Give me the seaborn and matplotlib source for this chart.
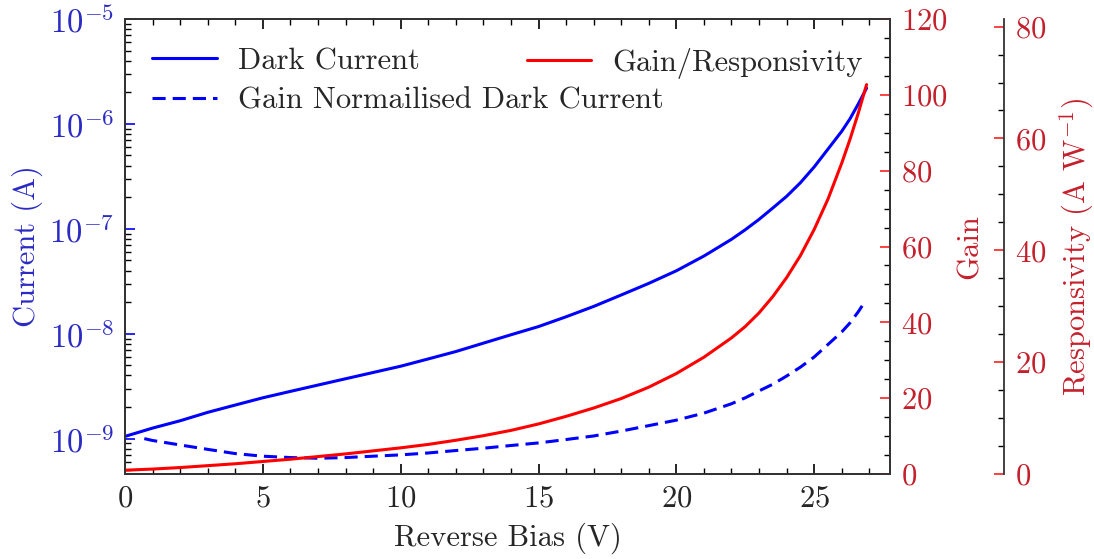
import numpy as np
import pandas as pd
import matplotlib
matplotlib.use("Agg")
import matplotlib.pyplot as plt
import seaborn as sns
from matplotlib.ticker import MultipleLocator, LogLocator, NullFormatter, FixedLocator

# ---- data ----
bias = [0, 1, 2, 3, 4, 5, 6, 7, 8, 9, 10, 11, 12, 13, 14, 15, 16, 17, 18, 19, 20, 21, 22,
        22.5, 23, 23.5, 24, 24.5, 25, 25.5, 26, 26.3, 26.6, 26.9]
dark_current = [1.05e-9, 1.26e-9, 1.48e-9, 1.78e-9, 2.09e-9, 2.45e-9, 2.82e-9, 3.24e-9,
                3.72e-9, 4.27e-9, 4.90e-9, 5.75e-9, 6.76e-9, 8.13e-9, 9.77e-9, 1.17e-8,
                1.45e-8, 1.82e-8, 2.34e-8, 3.02e-8, 3.98e-8, 5.50e-8, 7.94e-8, 9.8e-8,
                1.23e-7, 1.58e-7, 2.04e-7, 2.75e-7, 3.89e-7, 5.75e-7, 8.51e-7, 1.12e-6,
                1.55e-6, 2.19e-6]
gain = [1.0, 1.3, 1.7, 2.2, 2.7, 3.3, 3.9, 4.6, 5.3, 6.1, 6.9, 7.8, 8.9, 10.1, 11.5, 13.2,
        15.2, 17.4, 19.9, 22.9, 26.5, 30.8, 35.9, 38.9, 42.5, 46.8, 51.8, 57.6, 64.5, 72.5,
        82.0, 88.3, 95.2, 102.7]
bias_norm = [0.7, 1, 2, 3, 4, 5, 6, 7, 8, 9, 10, 11, 12, 13, 14, 15, 16, 17, 18, 19, 20,
             21, 22, 22.5, 23, 23.5, 24, 24.5, 25, 25.5, 26, 26.3, 26.6, 26.8]
norm_dark = [1.0e-9, 9.6e-10, 8.7e-10, 7.9e-10, 7.2e-10, 6.8e-10, 6.6e-10, 6.5e-10, 6.6e-10,
             6.8e-10, 7.0e-10, 7.3e-10, 7.7e-10, 8.1e-10, 8.6e-10, 9.1e-10, 9.8e-10, 1.06e-9,
             1.18e-9, 1.33e-9, 1.5e-9, 1.75e-9, 2.15e-9, 2.45e-9, 2.85e-9, 3.3e-9, 3.95e-9,
             4.8e-9, 6.0e-9, 7.9e-9, 1.04e-8, 1.27e-8, 1.62e-8, 1.95e-8]
current_ticks = [1e-9, 1e-8, 1e-7, 1e-6, 1e-5]
labels = ["Dark Current", "Gain Normailised Dark Current", "Gain/Responsivity"]

# ---- style ----
sns.set_style("ticks")
plt.rcParams["font.family"] = ["cmr10", "DejaVu Serif"]
plt.rcParams["mathtext.fontset"] = "cm"
plt.rcParams["axes.formatter.use_mathtext"] = True
plt.rcParams["xtick.direction"] = "in"
plt.rcParams["ytick.direction"] = "in"
FS = 22
BLUE_TXT = "#2a2ac4"
RED_TXT = "#c4202c"
LW = 2.2

fig = plt.figure(figsize=(10.94, 5.59), dpi=100)
ax = fig.add_axes([125/1094, 1-474/559, (890-125)/1094, (474-19)/559])

df_dark = pd.DataFrame({"V": bias, "I": dark_current})
df_norm = pd.DataFrame({"V": bias_norm, "I": norm_dark})
df_gain = pd.DataFrame({"V": bias, "G": gain})

sns.lineplot(data=df_dark, x="V", y="I", ax=ax, color="#0000ff", lw=LW, label=labels[0])
sns.lineplot(data=df_norm, x="V", y="I", ax=ax, color="#0000ff", lw=LW, ls=(0, (4.3, 2.3)),
             label=labels[1])
ax.set_yscale("log")
ax.set_ylim(4.6e-10, 1e-5)
ax.set_xlim(0, 27.75)

ax2 = ax.twinx()
sns.lineplot(data=df_gain, x="V", y="G", ax=ax2, color="#ff0000", lw=LW, label=labels[2])
ax2.set_ylim(0, 120)

ax3 = ax.twinx()
ax3.spines["right"].set_position(("axes", (1004-125)/(890-125)))
ax3.set_ylim(0, 120 * 80/118.0)
for s in ["top", "left", "bottom"]:
    ax3.spines[s].set_visible(False)

# ---- axes formatting ----
ax.set_xlabel("Reverse Bias (V)", fontsize=FS, labelpad=7)
ax.set_ylabel("Current (A)", fontsize=FS, color=BLUE_TXT, labelpad=4)
ax2.set_ylabel("Gain", fontsize=FS, color=RED_TXT, labelpad=6)
ax3.set_ylabel(r"Responsivity (A W$^{-1}$)", fontsize=FS, color=RED_TXT, labelpad=8)
for a in (ax2, ax3):
    a.set_xlabel("")
    a.xaxis.set_visible(False)

ax.xaxis.set_major_locator(MultipleLocator(5))
ax.xaxis.set_minor_locator(MultipleLocator(1))
ax.yaxis.set_major_locator(FixedLocator(current_ticks))
ax.yaxis.set_minor_locator(LogLocator(base=10, subs=np.arange(2, 10), numticks=20))
ax.yaxis.set_minor_formatter(NullFormatter())
ax.set_ylim(4.6e-10, 1e-5)
ax.tick_params(axis="x", which="both", direction="in", top=True, bottom=True,
               labelsize=FS, color="black", pad=8)
ax.tick_params(axis="x", which="major", length=7, width=1.2)
ax.tick_params(axis="x", which="minor", length=4, width=1.0)
ax.tick_params(axis="y", which="both", direction="in", left=True, right=False,
               labelsize=FS + 1.5, labelcolor=BLUE_TXT, pad=8)
ax.tick_params(axis="y", which="major", length=7, width=1.2, color="#0000ff")
ax.tick_params(axis="y", which="minor", length=4, width=1.0, color="black")

for a in (ax2, ax3):
    a.yaxis.set_major_locator(MultipleLocator(20))
    a.yaxis.set_minor_locator(MultipleLocator(5))
    a.tick_params(axis="y", which="both", direction="in", labelsize=FS,
                  labelcolor=RED_TXT, pad=8, left=False, right=True)
    a.tick_params(axis="y", which="major", length=7, width=1.2, color="#ff2020")
    a.tick_params(axis="y", which="minor", length=4, width=1.0, color="black")

for a in (ax, ax2, ax3):
    for s in a.spines.values():
        s.set_linewidth(1.3)
        s.set_color("#333333")

# ---- legends ----
for a in (ax, ax2):
    lg = a.get_legend()
    if lg is not None:
        lg.remove()
h1, l1 = ax.get_legend_handles_labels()
h2, l2 = ax2.get_legend_handles_labels()
leg1 = ax2.legend(h1, l1, loc="upper left", frameon=False, fontsize=FS,
                  handlelength=2.1, handletextpad=0.7, labelspacing=0.4,
                  bbox_to_anchor=(-0.004, 1.004), borderaxespad=0.6)
ax2.add_artist(leg1)
ax2.legend(h2, l2, loc="upper left", frameon=False, fontsize=FS,
           handlelength=2.1, handletextpad=0.7,
           bbox_to_anchor=((527-125)/765 - 0.04, 1.004), borderaxespad=0.6)

fig.savefig("out.png", dpi=100)
